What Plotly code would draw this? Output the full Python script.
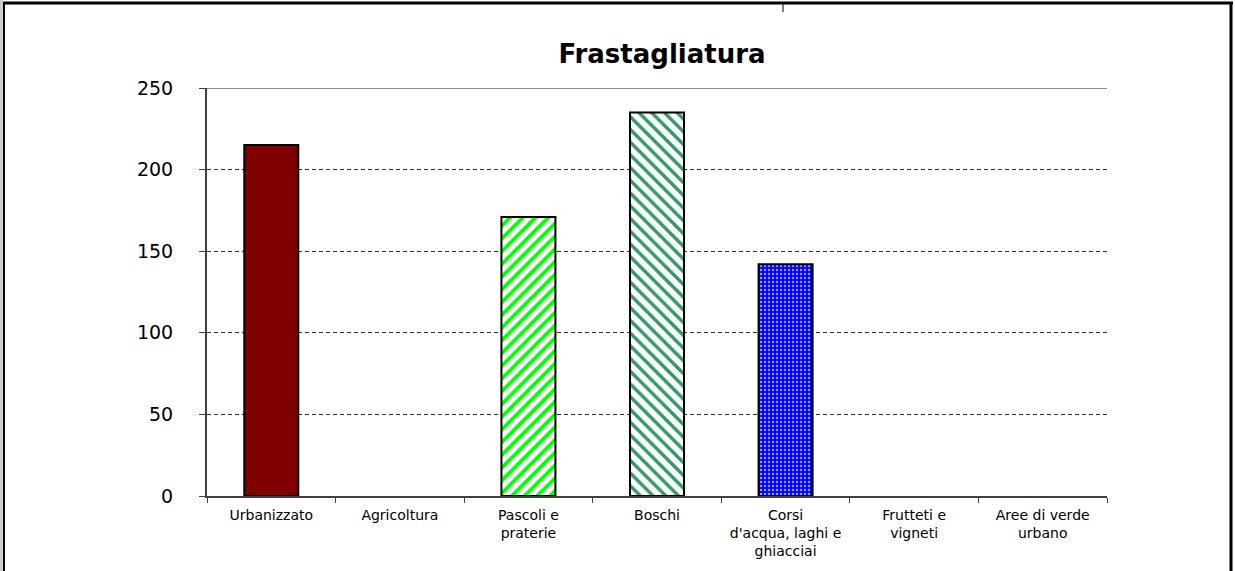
import plotly.graph_objects as go

categories = ["Urbanizzato", "Agricoltura", "Pascoli e<br>praterie", "Boschi",
              "Corsi<br>d'acqua, laghi e<br>ghiacciai", "Frutteti e<br>vigneti",
              "Aree di verde<br>urbano"]
values = [215, 0, 171, 235, 142, 0, 0]
bar_colors = ["#800000", "#ffffff", "#ffffff", "#ffffff", "#0000ff", "#ffffff", "#ffffff"]
pattern_shapes = ["", "", "/", "\\", ".", "", ""]
pattern_fg = ["#800000", "#ffffff", "#00ff00", "#339966", "#9a9aff", "#ffffff", "#ffffff"]
pattern_size = [8, 8, 9, 9, 4, 8, 8]
pattern_solidity = [0.4, 0.4, 0.42, 0.38, 0.3, 0.4, 0.4]
line_widths = [2, 0, 2, 2, 2, 0, 0]
y_ticks = [0, 50, 100, 150, 200, 250]

W, H = 1235, 571
L, R, T, B = 207, 1107, 88, 496

def px(x):
    return (x - L) / (R - L)

def py(y):
    return (B - y) / (B - T)

fig = go.Figure()
for i, cat in enumerate(categories):
    pat = dict(shape=pattern_shapes[i], fillmode="replace", bgcolor=bar_colors[i],
               fgcolor=pattern_fg[i], fgopacity=1, size=pattern_size[i],
               solidity=pattern_solidity[i])
    fig.add_trace(go.Bar(
        x=[cat], y=[values[i]], name=cat.replace("<br>", " "),
        marker=dict(color=bar_colors[i],
                    line=dict(color="black", width=line_widths[i]),
                    pattern=pat),
        width=0.42,
    ))

font = "DejaVu Sans, Liberation Sans, sans-serif"

shapes = [
    dict(type="line", xref="paper", yref="y", x0=0, x1=1, y0=250, y1=250,
         line=dict(color="#8c8c8c", width=2)),
    dict(type="rect", xref="paper", yref="paper", x0=px(0), x1=px(3), y0=py(0), y1=py(571),
         fillcolor="#cccccc", line=dict(width=0)),
    dict(type="line", xref="paper", yref="paper", x0=px(4), x1=px(4), y0=py(2), y1=py(571),
         line=dict(color="black", width=2)),
    dict(type="line", xref="paper", yref="paper", x0=px(3), x1=px(1233), y0=py(3), y1=py(3),
         line=dict(color="black", width=3)),
    dict(type="line", xref="paper", yref="paper", x0=px(1231), x1=px(1231), y0=py(2), y1=py(571),
         line=dict(color="black", width=3)),
    dict(type="line", xref="paper", yref="paper", x0=px(783), x1=px(783), y0=py(2), y1=py(12),
         line=dict(color="black", width=1)),
]

fig.update_layout(
    width=W, height=H,
    margin=dict(l=L, r=W - R, t=T, b=H - B),
    paper_bgcolor="white", plot_bgcolor="white",
    showlegend=False, barmode="overlay",
    title=dict(text="<b>Frastagliatura</b>", x=px(662), xref="paper", xanchor="center",
               y=1 - 54 / H, yanchor="middle",
               font=dict(family=font, size=26, color="black")),
    font=dict(family=font, color="black"),
    shapes=shapes,
    xaxis=dict(
        type="category", categoryorder="array", categoryarray=categories,
        showline=True, linecolor="#404040", linewidth=2,
        ticks="outside", tickson="boundaries", ticklen=5, tickcolor="#404040",
        tickfont=dict(size=14, family=font, color="black"),
        showgrid=False, ticklabelstandoff=5,
    ),
    yaxis=dict(
        range=[0, 250], tickvals=y_ticks,
        showline=True, linecolor="#404040", linewidth=2,
        ticks="outside", ticklen=6, tickcolor="#404040",
        tickfont=dict(size=19, family=font, color="black"),
        showgrid=True, gridcolor="#303030", gridwidth=1, griddash="4px,3px",
        zeroline=False, ticklabelstandoff=22,
    ),
)

fig.write_html("out.html", config={"displayModeBar": False},
               post_script="document.body.style.margin='0px';")
